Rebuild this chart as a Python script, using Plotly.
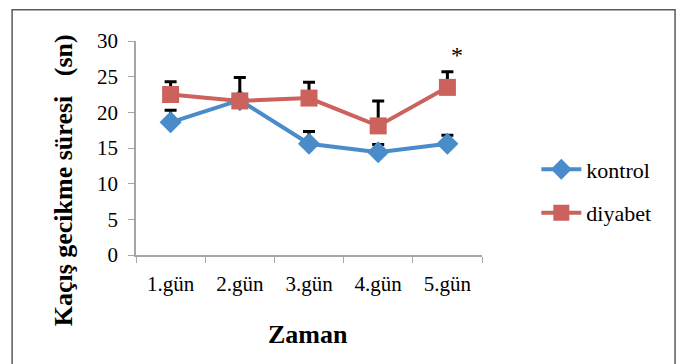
import plotly.graph_objects as go

days = ["1.gün", "2.gün", "3.gün", "4.gün", "5.gün"]
kontrol = [18.6, 21.7, 15.6, 14.4, 15.6]
kontrol_err = [1.7, 0.0, 1.7, 1.1, 1.2]
diyabet = [22.5, 21.6, 22.0, 18.1, 23.5]
diyabet_err = [1.8, 3.3, 2.2, 3.5, 2.2]
y_ticks = [0, 5, 10, 15, 20, 25, 30]

serif = "Liberation Serif, Times New Roman, serif"
blue = "#4A8BC9"
red = "#CB625C"

fig = go.Figure()
fig.add_trace(go.Scatter(
    x=days, y=kontrol, name="kontrol", mode="lines+markers", legendgroup="k",
    line=dict(color=blue, width=4),
    marker=dict(symbol="diamond", size=17, color=blue),
    error_y=dict(type="data", array=kontrol_err, symmetric=False, arrayminus=[0]*5,
                 color="black", thickness=3, width=6),
))
fig.add_trace(go.Scatter(
    x=days, y=diyabet, name="diyabet", mode="lines+markers", legendgroup="d",
    line=dict(color=red, width=4),
    marker=dict(symbol="square", size=17, color=red),
    error_y=dict(type="data", array=diyabet_err, symmetric=False, arrayminus=[0]*5,
                 color="black", thickness=3, width=6),
))

fig.add_annotation(x=4.14, y=28.1, xref="x", yref="y", text="*", showarrow=False,
                   font=dict(family=serif, size=24, color="black"))

fig.add_annotation(x=-0.258, y=0.35, xref="paper", yref="paper",
                   text="<b>Kaçış gecikme süresi   (sn)</b>", textangle=-90,
                   showarrow=False, font=dict(family=serif, size=26, color="black"))
fig.add_annotation(x=0.497, y=-0.448, xref="paper", yref="paper",
                   text="<b>Zaman</b>", showarrow=False,
                   font=dict(family=serif, size=26, color="black"))

fig.add_shape(type="rect", xref="paper", yref="paper",
              x0=-0.358, x1=1.558, y0=-0.53, y1=1.146,
              line=dict(color="#5a5a5a", width=1.5))

fig.update_layout(
    width=677, height=364,
    margin=dict(l=136, r=195, t=41, b=109),
    paper_bgcolor="white", plot_bgcolor="white",
    font=dict(family=serif, size=21, color="black"),
    showlegend=True,
    legend=dict(x=1.157, y=0.297, xanchor="left", yanchor="middle",
                font=dict(family=serif, size=22), itemwidth=40,
                tracegroupgap=12, bgcolor="rgba(0,0,0,0)"),
    xaxis=dict(showline=True, linecolor="#A6A6A6", linewidth=1.5,
               ticks="outside", tickcolor="#A6A6A6", ticklen=6, tickson="boundaries",
               showgrid=False, zeroline=False, range=[-0.5, 4.5],
               ticklabelstandoff=9),
    yaxis=dict(showline=True, linecolor="#A6A6A6", linewidth=1.5,
               ticks="outside", tickcolor="#A6A6A6", ticklen=6,
               tickvals=y_ticks, range=[0, 30], showgrid=False, zeroline=False,
               ticklabelstandoff=6),
)

fig.write_html("out.html", config={"displayModeBar": False},
               post_script="document.body.style.margin='0';")
